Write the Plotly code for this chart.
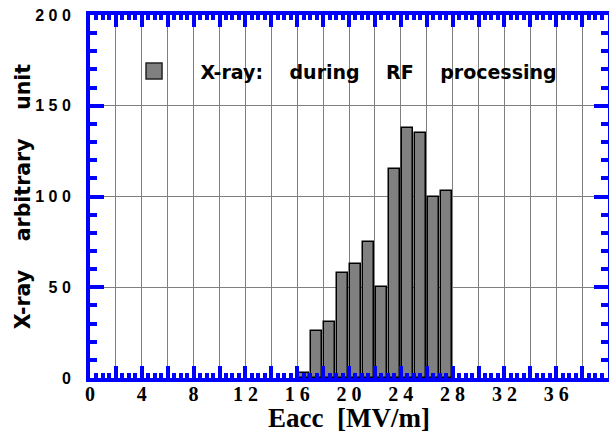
import plotly.graph_objects as go

# Data
eacc = [16.5, 17.5, 18.5, 19.5, 20.5, 21.5, 22.5, 23.5, 24.5, 25.5, 26.5, 27.5]
xray = [3, 26, 31, 58, 63, 75, 50, 115, 138, 135, 100, 103]

x_tickvals = list(range(0, 41, 2))
x_ticktext = [("\u00a0".join(str(v)) if (v % 4 == 0 and v < 40) else "") for v in x_tickvals]
y_tickvals = [0, 50, 100, 150, 200]
y_ticktext = ["\u00a0".join(str(v)) for v in y_tickvals]

legend_name = "\u00a0\u00a0\u00a0\u00a0X-ray:\u00a0\u00a0\u00a0\u00a0during\u00a0\u00a0\u00a0\u00a0RF\u00a0\u00a0\u00a0\u00a0processing"
y_title = "X-ray\u00a0\u00a0\u00a0\u00a0arbitrary\u00a0\u00a0\u00a0\u00a0unit\u00a0\u00a0\u00a0"
x_title = "Eacc\u00a0\u00a0[MV/m]"

BLUE = "#0000FF"
GRID = "#808080"

fig = go.Figure()
fig.add_trace(go.Bar(
    x=eacc, y=xray, width=0.85,
    marker=dict(color="#808080", line=dict(color="black", width=1.5)),
    showlegend=False,
))
# legend entry
fig.add_trace(go.Scatter(
    x=[None], y=[None], mode="markers", name=legend_name,
    marker=dict(symbol="square", size=16, color="#808080", line=dict(color="#222", width=1.5)),
))

fig.add_shape(type="rect", xref="paper", yref="paper",
              x0=0.03, x1=0.93, y0=0.785, y1=0.917,
              fillcolor="white", line=dict(width=0), layer="between")

fig.update_layout(
    width=609, height=433,
    margin=dict(l=90, r=1, t=15, b=55, autoexpand=False),
    plot_bgcolor="white", paper_bgcolor="white",
    bargap=0,
    legend=dict(
        x=0.085, y=0.845, xanchor="left", yanchor="middle",
        bgcolor="rgba(0,0,0,0)", borderwidth=0,
        font=dict(family="DejaVu Sans", size=19, color="black", weight="bold"),
    ),
    xaxis=dict(
        range=[0, 40], tickmode="array", tickvals=x_tickvals, ticktext=x_ticktext,
        automargin=False,
        ticks="inside", ticklen=12, tickwidth=4, tickcolor=BLUE,
        showline=True, linecolor=BLUE, linewidth=4, mirror="allticks",
        showgrid=True, gridcolor=GRID, gridwidth=1, zeroline=False,
        ticklabelstandoff=-5,
        tickfont=dict(family="Liberation Serif", size=20, color="black", weight="bold"),
        minor=dict(tickmode="linear", tick0=0, dtick=0.5, ticks="inside", ticklen=5,
                   tickwidth=4, tickcolor=BLUE, showgrid=False),
        title=dict(text=x_title, standoff=21,
                   font=dict(family="Liberation Serif", size=27, color="black", weight="bold")),
    ),
    yaxis=dict(
        range=[0, 200], tickmode="array", tickvals=y_tickvals, ticktext=y_ticktext,
        automargin=False,
        ticks="inside", ticklen=14, tickwidth=4, tickcolor=BLUE,
        showline=True, linecolor=BLUE, linewidth=4, mirror="allticks",
        showgrid=True, gridcolor=GRID, gridwidth=1, zeroline=False,
        ticklabelstandoff=12,
        tickfont=dict(family="Liberation Sans", size=16, color="black", weight="bold"),
        minor=dict(tickmode="linear", tick0=0, dtick=10, ticks="inside", ticklen=7,
                   tickwidth=4, tickcolor=BLUE, showgrid=False),
        title=dict(text=y_title, standoff=0,
                   font=dict(family="DejaVu Sans", size=20.5, color="black", weight="bold")),
    ),
)

fig.write_html("out.html")
